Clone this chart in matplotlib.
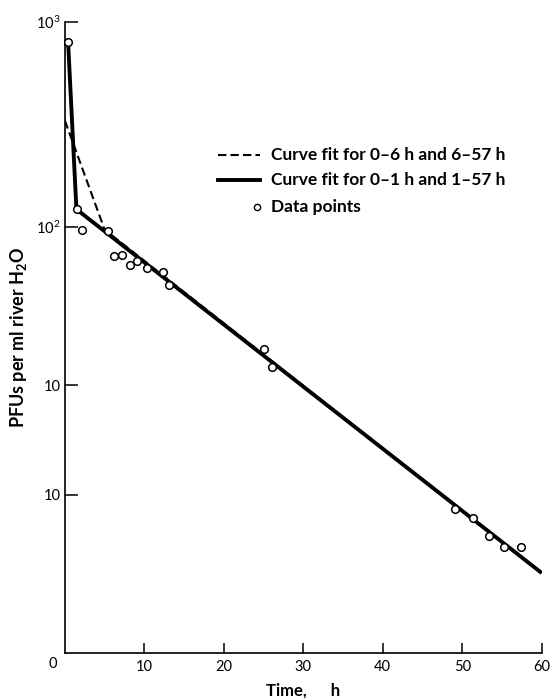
import numpy as np
import matplotlib
matplotlib.use('Agg')
import matplotlib.pyplot as plt
from matplotlib.ticker import NullLocator, FixedLocator, FixedFormatter

plt.rcParams['font.family'] = ['Lato', 'DejaVu Sans']
plt.rcParams['mathtext.default'] = 'regular'

# survival data (time in hours, plaque forming units per ml)
time_h = [0.4, 1.5, 2.2, 5.4, 6.2, 7.2, 8.2, 9.1, 10.3, 12.3, 13.1,
          25.0, 26.1, 49.1, 51.3, 53.4, 55.2, 57.4]
pfu = [800, 122, 97, 96, 72, 73, 65, 68, 63, 60, 52,
       25.4, 20.7, 4.2, 3.8, 3.1, 2.75, 2.75]

# two-stage fits
fit_a_t = [0.0, 5.0, 60.0]      # 0-6 h and 6-57 h
fit_a_y = [330, 97, 2.05]
fit_b_t = [0.4, 1.45, 60.0]     # 0-1 h and 1-57 h
fit_b_y = [800, 122, 2.05]

ytick_vals = [1000, 100, 16.9, 4.93]
ytick_labels = ['$10^3$', '$10^2$', '10', '10']
xtick_vals = [10, 20, 30, 40, 50, 60]

legend_labels = ['Curve fit for 0\u20136 h and 6\u201357 h',
                 'Curve fit for 0\u20131 h and 1\u201357 h',
                 'Data points']

fig = plt.figure(figsize=(5.5, 6.98), dpi=100)
ax = fig.add_axes([0.118, 0.0645, 0.867, 0.904])

ax.plot(fit_a_t, fit_a_y, color='black', lw=1.5, ls=(0, (4, 2)), zorder=2)
ax.plot(fit_b_t, fit_b_y, color='black', lw=2.8, solid_capstyle='butt', zorder=3)
ax.plot(time_h, pfu, 'o', ms=5.5, mfc='white', mec='black', mew=1.1, zorder=4,
        clip_on=False)

ax.set_yscale('log')
ax.set_xlim(0, 60)
ax.set_ylim(0.835, 1000)

ax.yaxis.set_major_locator(FixedLocator(ytick_vals))
ax.yaxis.set_major_formatter(FixedFormatter(ytick_labels))
ax.yaxis.set_minor_locator(NullLocator())
ax.set_xticks(xtick_vals)
ax.set_xticklabels([str(v) for v in xtick_vals])

for side in ['top', 'right']:
    ax.spines[side].set_visible(False)
for side in ['left', 'bottom']:
    ax.spines[side].set_linewidth(1.2)

ax.tick_params(axis='y', direction='in', length=9, width=1.1, pad=3, labelsize=10.5)
ax.tick_params(axis='x', direction='in', length=7, width=1.1, pad=5, labelsize=10.5)

# shared origin label
ax.text(-0.025, -0.018, '0', transform=ax.transAxes, ha='center', va='center',
        fontsize=10.5)

ax.set_xlabel('Time,      h', fontsize=12, fontweight='bold', labelpad=6)
ax.set_ylabel('PFUs per ml river H$_2$O', fontsize=13, fontweight='bold',
              labelpad=5)

# key drawn in axes fraction
ax.plot([0.321, 0.409], [0.789, 0.789], transform=ax.transAxes, color='black',
        lw=1.5, ls=(0, (4, 2)), clip_on=False)
ax.plot([0.321, 0.409], [0.750, 0.750], transform=ax.transAxes, color='black',
        lw=2.8, clip_on=False)
ax.plot([0.4025], [0.707], 'o', transform=ax.transAxes, ms=4.5, mfc='white',
        mec='black', mew=1.0, clip_on=False)
for ypos, lab in zip([0.789, 0.750, 0.707], legend_labels):
    ax.text(0.432, ypos, lab, transform=ax.transAxes, ha='left', va='center',
            fontsize=12.5, fontweight='bold')

plt.savefig('out.png', dpi=100)
